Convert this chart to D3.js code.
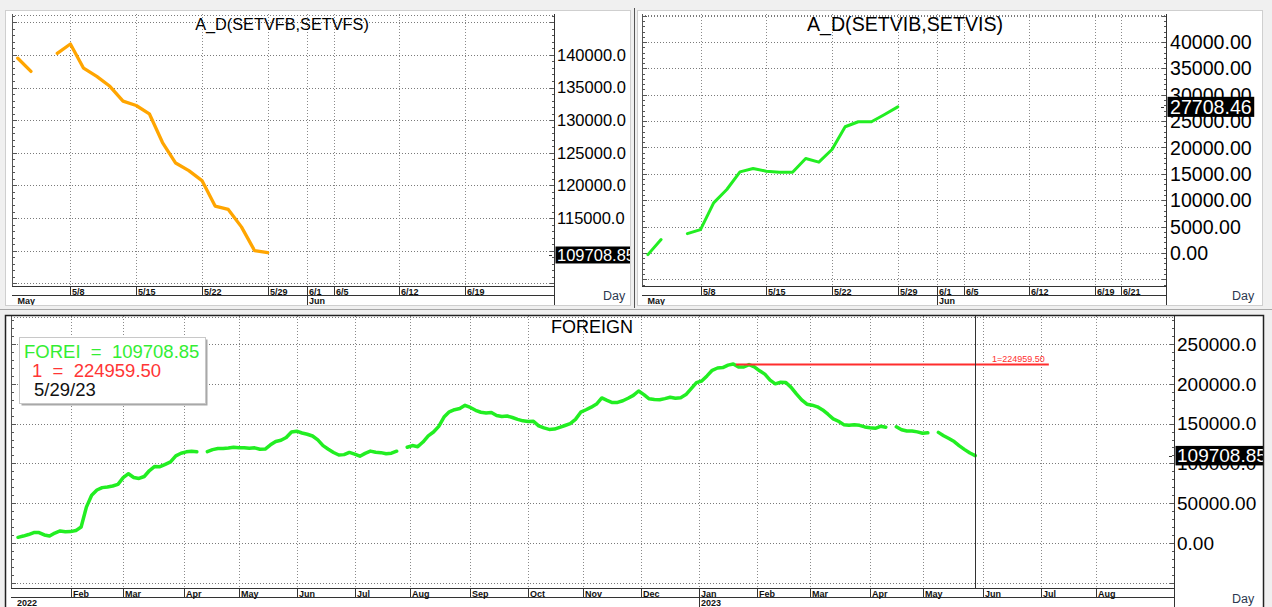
<!DOCTYPE html>
<html>
<head>
<meta charset="utf-8">
<script src="https://cdn.jsdelivr.net/npm/d3@7"></script>
<style>
    body { margin: 0; background: #f0f0f0; }
    svg text { font-family: Arial, "Liberation Sans", sans-serif; }
    .tlbl { font-size: 9px; font-weight: bold; fill: #111; }
</style>
</head>
<body>
<svg id="chart" width="1272" height="607"></svg>
<script>

/* * * * * * * * * * * * * *
*          DATA            *
* * * * * * * * * * * * * */

// top panels: daily readings, May 2023 (5/4 holiday -> no value)
const adDates = ["2023-05-02", "2023-05-03", "2023-05-04", "2023-05-05", "2023-05-08", "2023-05-09",
    "2023-05-10", "2023-05-11", "2023-05-12", "2023-05-15", "2023-05-16", "2023-05-17", "2023-05-18",
    "2023-05-19", "2023-05-22", "2023-05-23", "2023-05-24", "2023-05-25", "2023-05-26", "2023-05-29"];
const setvfValues = [139490, 137470, null, 140250, 141670, 137970, 136710, 135190, 132910, 132250,
    130980, 126570, 123430, 122260, 120740, 116840, 116330, 113650, 110000, 109708.85];
const setviValues = [-320, 2530, null, 3670, 4430, 9500, 12030, 15380, 16020, 15510,
    15320, 15320, 17920, 17220, 19620, 23930, 24880, 24880, 26270, 27708.46];

const dayTicksLeft = ["2023-05-08", "2023-05-15", "2023-05-22", "2023-05-29", "2023-06-01",
    "2023-06-05", "2023-06-12", "2023-06-19"];
const dayTicksRight = dayTicksLeft.concat(["2023-06-21"]);
const dayMonths = ["2023-05-01", "2023-06-01"];

const setvfGrid = d3.range(105000, 145001, 5000);
const setvfLabels = d3.range(110000, 140001, 5000);
const setviGrid = d3.range(-5000, 45001, 5000);
const setviLabels = d3.range(0, 40001, 5000);

// bottom panel: one reading every 2nd weekday from 2022-01-04 (null = no data)
const foreignStart = "2022-01-04";
const foreignStep = 2;
const foreignValues = [
    7000, 8600, 10500, 13000, 13000, 10000, 8600, 12400, 15000, 14000,
    14200, 15500, 20000, 45000, 60000, 66500, 69500, 70300, 71500, 73500,
    82000, 87000, 82300, 81000, 83500, 91000, 96200, 95800, 98800, 101800,
    109500, 112800, 114500, 115200, 114500, null, 114700, 117300, 118600, 118600,
    119300, 120300, 119700, 119700, 119000, 119500, 117800, 118000, 123300, 127600,
    129100, 132600, 139500, 140500, 138200, 136600, 134400, 129600, 122300, 117800,
    113700, 110500, 111000, 113800, 111700, 109000, 112600, 115400, 113900, 113500,
    112100, 112800, 115300, null, 120300, 122400, 121000, 126800, 134600, 139400,
    146500, 158200, 164800, 167500, 168900, 173000, 170300, 166700, 164300, 163300,
    164100, 160300, 158900, 159500, 157700, 155400, 153500, 152700, 153000, 147200,
    144600, 142700, 143100, 145300, 147600, 150000, 155300, 164400, 167400, 170700,
    174600, 182300, 179200, 176500, 176600, 178700, 181900, 185500, 191000, 186500,
    181200, 180200, 180000, 181400, 183100, 181900, 182600, 186500, 194000, 201500,
    203600, 210000, 217000, 219900, 220500, 223500, 224959.50, 221100, 221200, 224200,
    221300, 216400, 212200, 204700, 200000, 202000, 201700, 195600, 187300, 179800,
    174400, 173200, 171100, 167200, 161800, 156000, 153000, 148700, 147900, 148600,
    147800, 145800, 144800, 144100, 146600, 145500, null, 146000, 142300, 140700,
    140700, 139600, 137800, 138400, null, 139000, 134800, 131200, 127400, 122000,
    117300, 113000, 109708.85];

const foreignMonths = ["2022-02-01", "2022-03-01", "2022-04-01", "2022-05-01", "2022-06-01",
    "2022-07-01", "2022-08-01", "2022-09-01", "2022-10-01", "2022-11-01", "2022-12-01",
    "2023-01-01", "2023-02-01", "2023-03-01", "2023-04-01", "2023-05-01", "2023-06-01",
    "2023-07-01", "2023-08-01"];
const foreignYears = ["2022-01-03", "2023-01-01"];
const foreignGrid = d3.range(-50000, 250001, 50000);
const foreignLabels = d3.range(0, 250001, 50000);

// horizontal level line (1 = ...)
const peakLevel = 224959.50;
const peakFrom = "2023-01-20";
const peakTo = "2023-07-06";


/* * * * * * * * * * * * * *
*         HELPERS          *
* * * * * * * * * * * * * */

const svg = d3.select("#chart");
const parseDate = d3.utcParse("%Y-%m-%d");
const DAY = 864e5;

// trading-day axis: count weekdays from a Monday (weekends fall on next Monday)
function weekdayIndex(date, base) {
    let days = Math.round((date - base) / DAY);
    let w = Math.floor(days / 7);
    return w * 5 + Math.min(days - w * 7, 5);
}

function weekdayDate(idx, base) {
    let w = Math.floor(idx / 5);
    return new Date(base.getTime() + (w * 7 + idx - w * 5) * DAY);
}

function axisLabel(v) {
    return Math.abs(v) >= 100000 ? v.toFixed(1) : v.toFixed(2);
}

svg.append("rect").attr("width", 1272).attr("height", 607).attr("fill", "#f0f0f0");


/* * * * * * * * * * * * * *
*      class TimePanel     *
* * * * * * * * * * * * * */

class TimePanel {

    constructor(cfg, points) {
        Object.assign(this, cfg);
        this.points = points;
        this.initVis();
    }

    initVis() {
        let vis = this;

        vis.baseDate = parseDate(vis.base);
        vis.x = d3.scaleLinear().domain(vis.xDomain).range([vis.left, vis.right]);
        vis.y = d3.scaleLinear().domain(vis.yDomain).range([vis.bottom, vis.top]);
        vis.tx = d => Math.round(vis.x(weekdayIndex(parseDate(d), vis.baseDate))) + 0.5;

        vis.last = vis.points[vis.points.length - 1];
        vis.yLast = vis.y(vis.last.v) + vis.boxShift;

        let fr = vis.frame;
        svg.append("defs").append("clipPath")
            .attr("id", "clip-" + vis.id)
            .append("rect")
            .attr("x", fr[0]).attr("y", fr[1])
            .attr("width", fr[2]).attr("height", fr[3]);

        vis.g = svg.append("g").attr("clip-path", "url(#clip-" + vis.id + ")");

        vis.g.append("rect")
            .attr("x", fr[0]).attr("y", fr[1])
            .attr("width", fr[2]).attr("height", fr[3])
            .attr("fill", "#fff");

        vis.drawGrid();
        vis.drawTimeAxis();
        vis.drawValueAxis();
        vis.drawSeries();

        // title + "Day"
        vis.g.append("text")
            .attr("x", vis.titleX).attr("y", vis.titleY)
            .attr("text-anchor", "middle")
            .attr("font-size", vis.titleSize + "px")
            .attr("fill", "#000")
            .text(vis.title);

        vis.g.append("text")
            .attr("x", vis.dayX).attr("y", vis.dayY)
            .attr("font-size", "12.5px")
            .attr("fill", "#2c3850")
            .text("Day");
    }

    drawGrid() {
        let vis = this;

        vis.g.selectAll(".hgrid")
            .data(vis.grid)
            .enter().append("line")
            .attr("x1", vis.left).attr("x2", vis.right)
            .attr("y1", d => Math.round(vis.y(d)) + 0.5)
            .attr("y2", d => Math.round(vis.y(d)) + 0.5)
            .attr("stroke", "#7a7a7a")
            .attr("stroke-dasharray", "1,2");

        // dotted top edge
        vis.g.append("line")
            .attr("x1", vis.left).attr("x2", vis.right)
            .attr("y1", vis.top + 1.5).attr("y2", vis.top + 1.5)
            .attr("stroke", "#7a7a7a")
            .attr("stroke-dasharray", "1,2");

        vis.g.selectAll(".vgrid")
            .data(vis.upperTicks)
            .enter().append("line")
            .attr("x1", d => vis.tx(d)).attr("x2", d => vis.tx(d))
            .attr("y1", vis.top).attr("y2", vis.bottom)
            .attr("stroke", "#8a8a8a")
            .attr("stroke-dasharray", "1,2");
    }

    drawTimeAxis() {
        let vis = this;
        let b = vis.bottom;
        let fb = vis.frame[1] + vis.frame[3];

        [b + 0.5, b + 9.5].forEach(yy => {
            vis.g.append("line")
                .attr("x1", vis.left).attr("x2", vis.right)
                .attr("y1", yy).attr("y2", yy)
                .attr("stroke", "#333");
        });

        // upper row (days / months)
        let up = vis.g.selectAll(".utick")
            .data(vis.upperTicks)
            .enter().append("g");

        up.append("line")
            .attr("x1", d => vis.tx(d)).attr("x2", d => vis.tx(d))
            .attr("y1", b).attr("y2", b + 10)
            .attr("stroke", "#333");

        up.append("text")
            .attr("class", "tlbl")
            .attr("x", d => vis.tx(d) + 1.5)
            .attr("y", b + 8.5)
            .text(d => vis.upperFormat(parseDate(d)));

        // lower row (months / years)
        vis.lowerTicks.forEach(d => {
            let xx = vis.tx(d);
            if (xx > vis.left + 6) {
                vis.g.append("line")
                    .attr("x1", xx).attr("x2", xx)
                    .attr("y1", b + 9).attr("y2", fb)
                    .attr("stroke", "#333");
            }
            vis.g.append("text")
                .attr("class", "tlbl")
                .attr("x", Math.max(xx, vis.left + 4) + 1.5)
                .attr("y", b + 17.5)
                .text(vis.lowerFormat(parseDate(d)));
        });
    }

    drawValueAxis() {
        let vis = this;
        let d0 = vis.y.domain();

        // left and right rules
        vis.g.append("line")
            .attr("x1", vis.left + 0.5).attr("x2", vis.left + 0.5)
            .attr("y1", vis.top).attr("y2", vis.bottom)
            .attr("stroke", "#555");
        vis.g.append("line")
            .attr("x1", vis.right + 0.5).attr("x2", vis.right + 0.5)
            .attr("y1", vis.top).attr("y2", vis.frame[1] + vis.frame[3])
            .attr("stroke", "#333");

        // minor ticks on both rules
        let minor = d3.range(Math.ceil(d0[0] / vis.minorStep) * vis.minorStep, d0[1], vis.minorStep);
        let major = v => Math.abs(v % (vis.minorStep * 5)) < 1e-6;

        vis.g.selectAll(".mtl")
            .data(minor)
            .enter().append("line")
            .attr("x1", vis.left)
            .attr("x2", d => vis.left + (major(d) ? 5 : 3))
            .attr("y1", d => Math.round(vis.y(d)) + 0.5)
            .attr("y2", d => Math.round(vis.y(d)) + 0.5)
            .attr("stroke", "#555");

        vis.g.selectAll(".mtr")
            .data(minor)
            .enter().append("line")
            .attr("x1", d => vis.right - (major(d) ? 4 : 2))
            .attr("x2", vis.right)
            .attr("y1", d => Math.round(vis.y(d)) + 0.5)
            .attr("y2", d => Math.round(vis.y(d)) + 0.5)
            .attr("stroke", "#555");

        // labels wholly hidden behind the value box are left out
        vis.g.selectAll(".ylbl")
            .data(vis.labels.filter(d => Math.abs(vis.y(d) - vis.yLast) > vis.labelSize * 0.35))
            .enter().append("text")
            .attr("x", vis.labelX)
            .attr("y", d => vis.y(d) + vis.labelSize * 0.36)
            .attr("font-size", vis.labelSize + "px")
            .attr("fill", "#000")
            .text(d => axisLabel(d));
    }

    drawSeries() {
        let vis = this;

        let line = d3.line()
            .defined(d => d.v !== null)
            .x(d => vis.x(d.idx))
            .y(d => vis.y(d.v));

        vis.g.append("path")
            .datum(vis.points)
            .attr("d", line)
            .attr("fill", "none")
            .attr("stroke", vis.color)
            .attr("stroke-width", vis.lineWidth)
            .attr("stroke-linejoin", "round")
            .attr("stroke-linecap", "round");

        // current value box on the scale
        let yv = vis.yLast;
        let h = vis.labelSize + 0.5;

        vis.g.append("line")
            .attr("x1", vis.right - 5).attr("x2", vis.right - 2)
            .attr("y1", Math.round(yv) + 0.5).attr("y2", Math.round(yv) + 0.5)
            .attr("stroke", "#333");

        let box = vis.g.append("rect")
            .attr("x", vis.right + 1.5)
            .attr("y", yv - h / 2)
            .attr("height", h)
            .attr("fill", "#000");

        let txt = vis.g.append("text")
            .attr("x", vis.labelX)
            .attr("y", yv + vis.labelSize * 0.36)
            .attr("font-size", vis.labelSize + "px")
            .attr("fill", "#fff")
            .text(vis.last.v.toFixed(2));

        box.attr("width", txt.node().getComputedTextLength() + (vis.labelX - vis.right) + 1);
    }
}


/* * * * * * * * * * * * * *
*          PANELS          *
* * * * * * * * * * * * * */

function dailyPoints(values, base) {
    return adDates.map((d, i) => ({ idx: weekdayIndex(parseDate(d), parseDate(base)), v: values[i] }));
}

let setvfPanel = new TimePanel({
    id: "setvf",
    frame: [5, 10, 626, 295],
    left: 12, right: 554, top: 14, bottom: 286,
    xDomain: [0.56, 41.76],
    yDomain: [104590, 146270],
    base: "2023-05-01",
    grid: setvfGrid, labels: setvfLabels, minorStep: 1000,
    upperTicks: dayTicksLeft, upperFormat: d3.utcFormat("%-m/%-d"),
    lowerTicks: dayMonths, lowerFormat: d3.utcFormat("%b"),
    title: "A_D(SETVFB,SETVFS)", titleX: 282, titleY: 30, titleSize: 16.3,
    labelX: 557, labelSize: 16.5,
    color: "#ffa500", lineWidth: 3.3, boxShift: 2.4,
    dayX: 603, dayY: 300
}, dailyPoints(setvfValues, "2023-05-01"));

let setviPanel = new TimePanel({
    id: "setvi",
    frame: [637, 10, 626, 295],
    left: 642, right: 1166, top: 14, bottom: 286,
    xDomain: [0.55, 40.4],
    yDomain: [-6270, 45320],
    base: "2023-05-01",
    grid: setviGrid, labels: setviLabels, minorStep: 1000,
    upperTicks: dayTicksRight, upperFormat: d3.utcFormat("%-m/%-d"),
    lowerTicks: dayMonths, lowerFormat: d3.utcFormat("%b"),
    title: "A_D(SETVIB,SETVIS)", titleX: 905, titleY: 31, titleSize: 19.6,
    labelX: 1170, labelSize: 19.6,
    color: "#22ee22", lineWidth: 3, boxShift: 0,
    dayX: 1232, dayY: 300
}, dailyPoints(setviValues, "2023-05-01"));

let foreignBase = parseDate("2022-01-03");
let foreignStartIdx = weekdayIndex(parseDate(foreignStart), foreignBase);
let foreignPoints = foreignValues.map((v, i) => ({ idx: foreignStartIdx + foreignStep * i, v: v }));

let foreignPanel = new TimePanel({
    id: "foreign",
    frame: [5, 315, 1259, 292],
    left: 11, right: 1174, top: 316, bottom: 588,
    xDomain: [-1.67, 440.6],
    yDomain: [-56700, 285300],
    base: "2022-01-03",
    grid: foreignGrid, labels: foreignLabels, minorStep: 10000,
    upperTicks: foreignMonths, upperFormat: d3.utcFormat("%b"),
    lowerTicks: foreignYears, lowerFormat: d3.utcFormat("%Y"),
    title: "FOREIGN", titleX: 592, titleY: 333, titleSize: 18,
    labelX: 1177, labelSize: 19,
    color: "#22ee22", lineWidth: 3.5, boxShift: 0,
    dayX: 1232, dayY: 603
}, foreignPoints);

// extras on the FOREIGN panel
(function () {
    let vis = foreignPanel;
    let last = vis.last;

    // level line
    let yp = Math.round(vis.y(peakLevel)) + 0.5;
    let xEnd = vis.x(weekdayIndex(parseDate(peakTo), foreignBase));
    vis.g.append("line")
        .attr("x1", vis.x(weekdayIndex(parseDate(peakFrom), foreignBase)))
        .attr("x2", xEnd)
        .attr("y1", yp).attr("y2", yp)
        .attr("stroke", "#ff2d2d")
        .attr("stroke-width", 2);
    vis.g.append("text")
        .attr("x", xEnd - 4).attr("y", yp - 3)
        .attr("text-anchor", "end")
        .attr("font-size", "9px")
        .attr("fill", "#ff2d2d")
        .text("1=" + peakLevel.toFixed(2));

    // cursor at last bar
    let xc = Math.round(vis.x(last.idx)) + 0.5;
    vis.g.append("line")
        .attr("x1", xc).attr("x2", xc)
        .attr("y1", vis.top).attr("y2", vis.bottom)
        .attr("stroke", "#333");

    // data window
    let lg = vis.g.append("g");
    lg.append("rect")
        .attr("x", 21.5).attr("y", 339.5).attr("width", 186).attr("height", 66)
        .attr("fill", "#a8a8a8");
    lg.append("rect")
        .attr("x", 19.5).attr("y", 337.5).attr("width", 186).attr("height", 66)
        .attr("fill", "#fff").attr("stroke", "#c8c8c8");

    let rows = [
        { x: 24, y: 358, c: "#33ee33", t: "FOREI  =  " + last.v.toFixed(2) },
        { x: 32, y: 377, c: "#ff3535", t: "1  =  " + peakLevel.toFixed(2) },
        { x: 34, y: 396, c: "#111", t: d3.utcFormat("%-m/%-d/%y")(weekdayDate(last.idx, foreignBase)) }
    ];
    lg.selectAll("text")
        .data(rows)
        .enter().append("text")
        .attr("x", d => d.x).attr("y", d => d.y)
        .attr("font-size", "18.5px")
        .attr("fill", d => d.c)
        .style("white-space", "pre")
        .text(d => d.t);
})();

// frames and splitters
svg.append("rect").attr("x", 5.5).attr("y", 10.5).attr("width", 625).attr("height", 295)
    .attr("fill", "none").attr("stroke", "#cfcfcf");
svg.append("rect").attr("x", 637.5).attr("y", 10.5).attr("width", 625).attr("height", 295)
    .attr("fill", "none").attr("stroke", "#cfcfcf");
svg.append("line").attr("x1", 634.5).attr("x2", 634.5).attr("y1", 8).attr("y2", 308)
    .attr("stroke", "#555");
svg.append("line").attr("x1", 0).attr("x2", 1272).attr("y1", 309.5).attr("y2", 309.5)
    .attr("stroke", "#a8a8a8");
svg.append("rect").attr("x", 5.5).attr("y", 315.5).attr("width", 1258).attr("height", 295)
    .attr("fill", "none").attr("stroke", "#222").attr("stroke-width", 1.5);

</script>
</body>
</html>
